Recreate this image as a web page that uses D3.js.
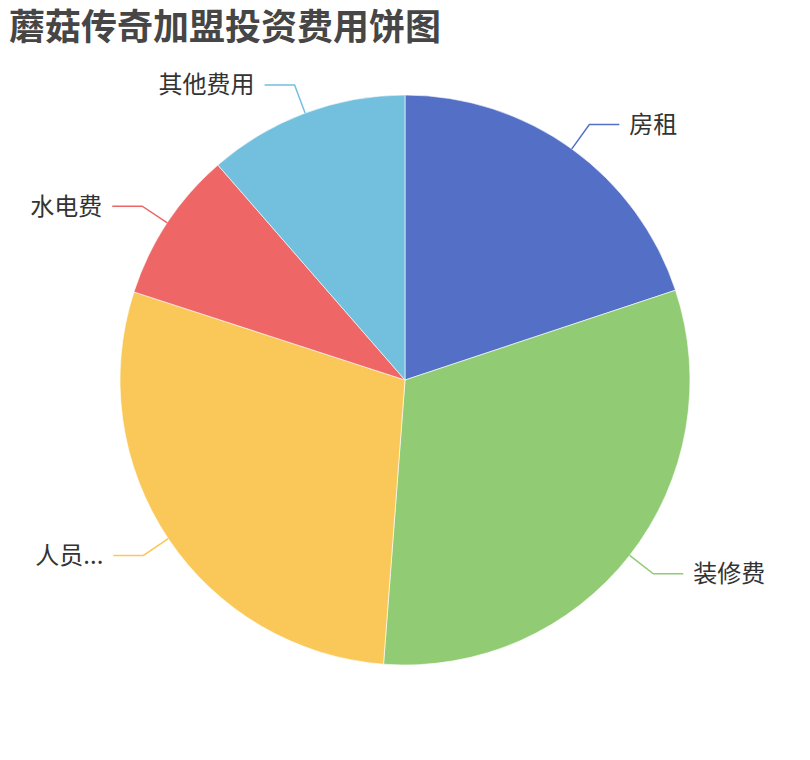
<!DOCTYPE html>
<html>
<head>
<meta charset="utf-8">
<script src="https://cdn.jsdelivr.net/npm/d3@7/dist/d3.min.js"></script>
<style>
  body { margin:0; background:#fff; }
  text { font-family:"Noto Sans CJK SC","Noto Sans",sans-serif; }
</style>
</head>
<body>
<svg id="chart" width="810" height="760"></svg>
<script>
// ---data (share of total, %)---
var categories = ["房租","装修费","人员工资","水电费","其他费用"]
var labels     = ["房租","装修费","人员...","水电费","其他费用"]
var values     = [19.9, 31.3, 28.8, 8.6, 11.4]
var colors     = ["#5470c6","#91cc75","#fac858","#ee6666","#73c0de"]

var width = 810, height = 760
var cx = 405, cy = 380, radius = 285
var len1 = 30, len2 = 30

var svg = d3.select("#chart")

svg.append("text")
  .text("蘑菇传奇加盟投资费用饼图")
  .attr("x", 9)
  .attr("y", 40)
  .attr("font-size", 36)
  .attr("font-weight", "bold")
  .attr("fill", "#464646")

var pie = d3.pie().sort(null).value(function(d){ return d })
var arcs = pie(values)

var arc = d3.arc().innerRadius(0).outerRadius(radius)

var g = svg.append("g").attr("transform", "translate(" + cx + "," + cy + ")")

g.selectAll("path.slice")
  .data(arcs)
  .enter().append("path")
  .attr("class", "slice")
  .attr("d", arc)
  .attr("fill", function(d, i){ return colors[i] })
  .attr("stroke", "#fff")
  .attr("stroke-width", 0.6)

// ---label lines---
function mid(d){ return (d.startAngle + d.endAngle) / 2 }
function pt(a, r){ return [r * Math.sin(a), -r * Math.cos(a)] }

arcs.forEach(function(d, i){
  var a = mid(d)
  var p0 = pt(a, radius)
  var p1 = pt(a, radius + len1)
  var right = Math.sin(a) >= 0
  var p2 = [p1[0] + (right ? len2 : -len2), p1[1]]

  g.append("polyline")
    .attr("points", [p0, p1, p2].map(function(p){ return p.join(",") }).join(" "))
    .attr("fill", "none")
    .attr("stroke", colors[i])
    .attr("stroke-width", 1.5)

  g.append("text")
    .text(labels[i])
    .attr("x", p2[0] + (right ? 10 : -10))
    .attr("y", p2[1])
    .attr("dy", "0.35em")
    .attr("text-anchor", right ? "start" : "end")
    .attr("font-size", 24)
    .attr("fill", "#333")
})
</script>
</body>
</html>
